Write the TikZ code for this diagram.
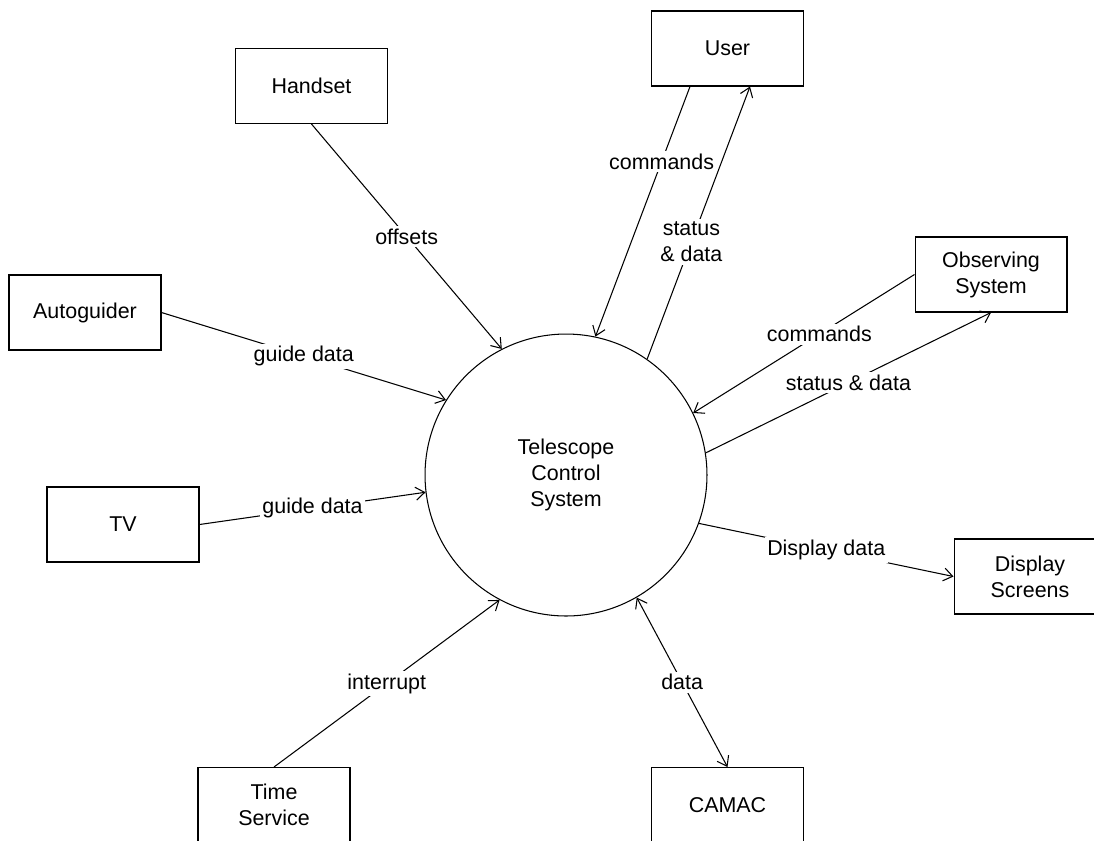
\documentclass[tikz,border=0pt]{standalone}
\usepackage{fontspec}
\setmainfont{Liberation Sans}
\usetikzlibrary{positioning, arrows.meta}

\tikzset{
  ent/.style={draw, rectangle, minimum width=3.04cm, minimum height=1.5cm, align=center, line width=0.6pt},
  proc/.style={draw, circle, minimum size=5.64cm, align=center, line width=0.6pt},
  flow/.style={line width=0.6pt, -{Straight Barb[length=1.8mm,width=2.6mm]}},
  biflow/.style={line width=0.6pt, {Straight Barb[length=1.8mm,width=2.6mm]}-{Straight Barb[length=1.8mm,width=2.6mm]}},
  lbl/.style={fill=white, inner sep=1.5pt, align=center}
}

\begin{document}
\begin{tikzpicture}[x=0.02cm, y=-0.02cm, font=\fontsize{12.2}{14.8}\selectfont]
  \useasboundingbox (0,0) rectangle (1094,840);

  % central process
  \node[proc] (tcs) at (566,475) {Telescope\\Control\\System};

  % external entities
  \node[ent] (user) at (727.5,48.5) {User};
  \node[ent] (hand) at (311.5,86) {Handset};
  \node[ent] (auto) at (85,312.5) {Autoguider};
  \node[ent] (tv) at (123,524.5) {TV};
  \node[ent] (time) at (274,805) {Time\\Service};
  \node[ent] (camac) at (727.5,805) {CAMAC};
  \node[ent] (disp) at (1030,576.5) {Display\\Screens};
  \node[ent] (obs) at (991,274.5) {Observing\\System};

  % flows
  \draw[flow] (hand.south) -- node[lbl] {offsets} (tcs.117);
  \draw[flow] (auto.east) -- node[lbl] {guide data} (tcs.148.6);
  \draw[flow] (tv.east) -- node[lbl] {guide data} (tcs.187.4);
  \draw[flow] (time.north) -- node[lbl] {interrupt} (tcs.242);
  \draw[biflow] (tcs.300.3) -- node[lbl] {data} (camac.north);
  \draw[flow] (tcs.340.4) -- node[lbl] {Display data} (disp.west);
  \draw[flow] (obs.west) -- node[lbl, pos=0.43] {commands} (tcs.26.7);
  \draw[flow] (tcs.9) -- node[lbl] {status \& data} (obs.south);
  \draw[flow] ([xshift=-0.75cm]user.south) -- node[lbl, pos=0.3] {commands} (tcs.78.8);
  \draw[flow] (tcs.55.3) -- node[lbl, pos=0.43] {status\\\& data} ([xshift=0.45cm]user.south);

\end{tikzpicture}
\end{document}
